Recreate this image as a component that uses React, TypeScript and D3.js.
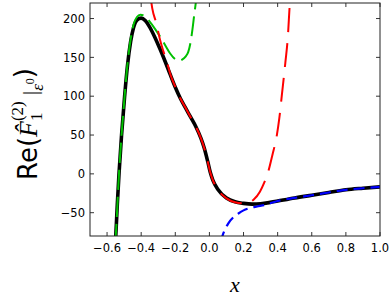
import React from 'react'
import * as d3 from 'd3'

// values: [x, Re F]
const exactCurve: [number, number][] = [
  [-0.552, -90], [-0.549, -80], [-0.54, -40], [-0.53, 0], [-0.515, 50], [-0.497, 100],
  [-0.48, 140], [-0.462, 170], [-0.445, 188], [-0.425, 198], [-0.4, 200.5],
  [-0.375, 197], [-0.35, 189], [-0.32, 176], [-0.29, 161], [-0.26, 145],
  [-0.23, 128], [-0.2, 111.5], [-0.17, 97], [-0.14, 85], [-0.11, 73],
  [-0.08, 61], [-0.05, 46], [-0.03, 33], [-0.01, 16], [0.005, 2], [0.02, -8],
  [0.05, -20], [0.1, -31], [0.15, -36], [0.2, -38], [0.25, -39], [0.3, -38.5],
  [0.35, -37], [0.4, -35], [0.5, -31], [0.6, -27.5], [0.7, -24],
  [0.8, -20.5], [0.9, -18.5], [1.0, -16.8]
]

const smallXSeries: [number, number][] = [
  [-0.552, -90], [-0.549, -80], [-0.53, 0], [-0.497, 100], [-0.48, 142], [-0.462, 173],
  [-0.445, 192], [-0.425, 202], [-0.405, 205], [-0.38, 203], [-0.35, 196],
  [-0.32, 187], [-0.29, 177], [-0.26, 166], [-0.23, 155], [-0.2, 147.5],
  [-0.18, 145.5], [-0.16, 147], [-0.14, 151], [-0.124, 157], [-0.11, 170],
  [-0.1, 185], [-0.09, 203], [-0.08, 220], [-0.075, 230]
]

const midSeries: [number, number][] = [
  [-0.345, 228], [-0.335, 213], [-0.31, 193], [-0.29, 173], [-0.27, 158],
  [-0.25, 145], [-0.23, 129], [-0.2, 112], [-0.17, 97], [-0.14, 85],
  [-0.11, 73], [-0.08, 61], [-0.05, 46], [-0.03, 33], [-0.01, 16],
  [0.005, 2], [0.02, -8], [0.05, -20.5], [0.1, -31.5], [0.15, -36.5],
  [0.2, -38], [0.23, -37], [0.26, -33], [0.296, -23], [0.32, -12],
  [0.345, 3], [0.37, 25], [0.394, 48], [0.41, 72], [0.424, 100],
  [0.445, 143], [0.46, 177], [0.47, 215], [0.475, 232]
]

const largeXSeries: [number, number][] = [
  [0.065, -88], [0.081, -77], [0.11, -64], [0.14, -56], [0.17, -51], [0.2, -47],
  [0.238, -44], [0.28, -42], [0.326, -40], [0.36, -37.5], [0.4, -35],
  [0.5, -31], [0.6, -27.5], [0.7, -24], [0.8, -20.5], [0.9, -18.5], [1.0, -16.8]
]

const xTicks = [-0.6, -0.4, -0.2, 0.0, 0.2, 0.4, 0.6, 0.8, 1.0]
const yTicks = [-50, 0, 50, 100, 150, 200]

const W = 392
const H = 305
const plot = { left: 90, right: 380, top: 3, bottom: 236 }

const x = d3.scaleLinear().domain([-0.7, 1.0]).range([plot.left, plot.right])
const y = d3.scaleLinear().domain([-80, 220]).range([plot.bottom, plot.top])

const line = d3.line<[number, number]>()
  .x(d => x(d[0]))
  .y(d => y(d[1]))
  .curve(d3.curveMonotoneX)

const fmtTick = (v: number) => d3.format('.1f')(v).replace('-', '\u2212')
const fmtY = (v: number) => String(v).replace('-', '\u2212')

const App = () => {
  const tickLen = 4
  return (
    <svg width={W} height={H} style={{ position: 'absolute', left: 0, top: 0 }}
      fontFamily="'DejaVu Sans', sans-serif">
      <rect x={0} y={0} width={W} height={H} fill="white" />
      <defs>
        <clipPath id="plotclip">
          <rect x={plot.left} y={plot.top} width={plot.right - plot.left} height={plot.bottom - plot.top} />
        </clipPath>
      </defs>

      <g clipPath="url(#plotclip)" fill="none">
        <path d={line(exactCurve) || ''} stroke="#000" strokeWidth={3.6} />
        <path d={line(smallXSeries) || ''} stroke="#00c000" strokeWidth={2} strokeDasharray="20,7" />
        <path d={line(midSeries) || ''} stroke="#ff0000" strokeWidth={2} strokeDasharray="24,11" />
        <path d={line(largeXSeries) || ''} stroke="#0000ff" strokeWidth={2.2} strokeDasharray="11,6" />
      </g>

      {/* ticks, inward on all four sides */}
      <g stroke="#000" strokeWidth={0.8}>
        {xTicks.map(t => (
          <g key={'xt' + t}>
            <line x1={x(t)} x2={x(t)} y1={plot.bottom} y2={plot.bottom - tickLen} />
            <line x1={x(t)} x2={x(t)} y1={plot.top} y2={plot.top + tickLen} />
          </g>
        ))}
        {yTicks.map(t => (
          <g key={'yt' + t}>
            <line x1={plot.left} x2={plot.left + tickLen} y1={y(t)} y2={y(t)} />
            <line x1={plot.right} x2={plot.right - tickLen} y1={y(t)} y2={y(t)} />
          </g>
        ))}
      </g>

      <rect x={plot.left} y={plot.top} width={plot.right - plot.left} height={plot.bottom - plot.top}
        fill="none" stroke="#222" strokeWidth={1} />

      <g fontSize={11.5} fill="#000">
        {xTicks.map(t => (
          <text key={'xl' + t} x={x(t)} y={252} textAnchor="middle">{fmtTick(t)}</text>
        ))}
        {yTicks.map(t => (
          <text key={'yl' + t} x={plot.left - 5} y={y(t)} dy="0.36em" textAnchor="end">{fmtY(t)}</text>
        ))}
      </g>

      <text x={(plot.left + plot.right) / 2} y={292} textAnchor="middle" fontSize={22}
        fontFamily="'Liberation Serif', serif" fontStyle="italic">x</text>

      <g transform="translate(37,124) rotate(-90)">
        <text textAnchor="middle" fontSize={26}>
          <tspan fontFamily="'DejaVu Sans', sans-serif">Re(</tspan>
          <tspan fontFamily="'Liberation Serif', serif" fontStyle="italic">{'F\u0302'}</tspan>
          <tspan fontFamily="'Liberation Serif', serif" fontSize={17} dy={5}>1</tspan>
          <tspan fontFamily="'Liberation Serif', serif" fontSize={17} dx={-8.5} dy={-19}>(2)</tspan>
          <tspan fontFamily="'Liberation Serif', serif" fontSize={22} dy={14} dx={6}>|</tspan>
          <tspan fontFamily="'Liberation Serif', serif" fontStyle="italic" fontSize={17} dy={6}>ε</tspan>
          <tspan fontFamily="'Liberation Serif', serif" fontSize={12} dy={-9}>0</tspan>
          <tspan fontFamily="'DejaVu Sans', sans-serif" dy={-1}>)</tspan>
        </text>
      </g>
    </svg>
  )
}

export default App
